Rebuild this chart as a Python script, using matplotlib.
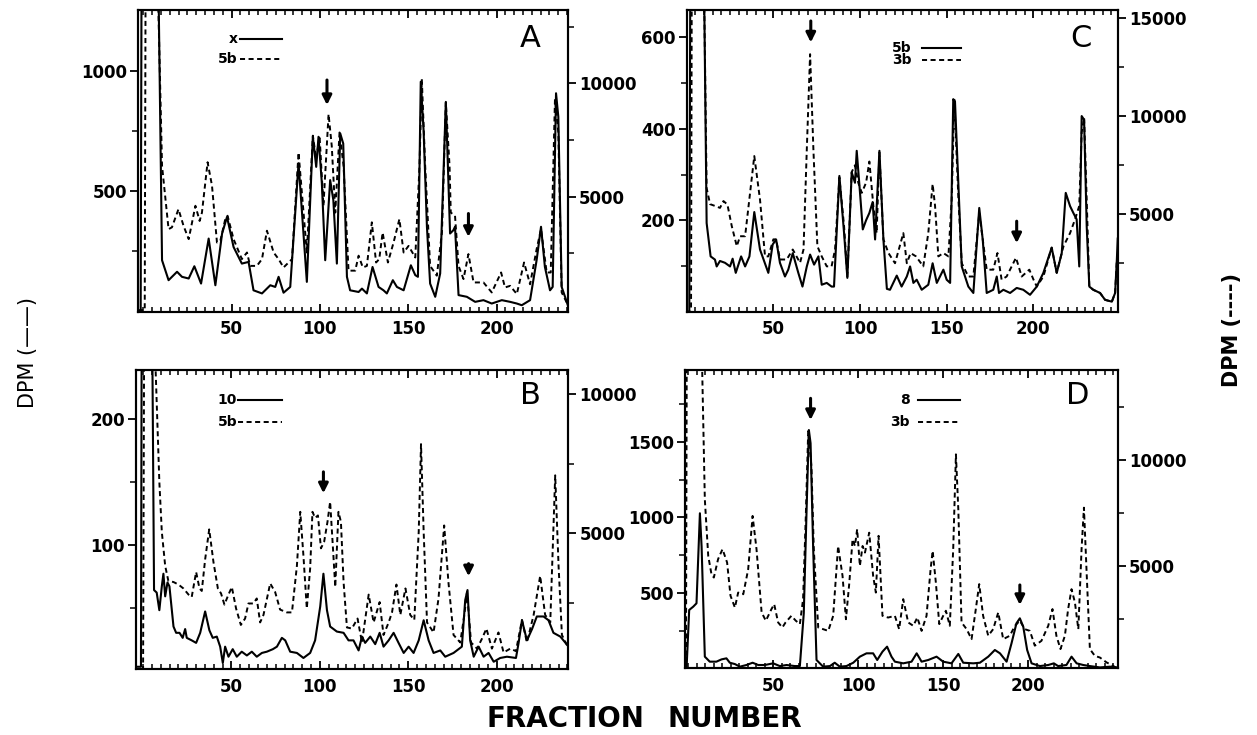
import numpy as np
import matplotlib
matplotlib.use("Agg")
import matplotlib.pyplot as plt
from matplotlib.ticker import MultipleLocator

plt.rcParams.update({"font.family": "DejaVu Sans", "font.weight": "bold"})

# ---- values: (fraction number, DPM)
# solid traces use the left axis, dashed traces the right axis
a_solid = [(-3, 0), (-1.5, 0), (-1, 1400), (8.5, 1400), (10.6, 212), (14.3, 129), (19.1, 164), (21.9, 143),
           (25.7, 136), (28.9, 187), (32.7, 115), (37, 302), (40.8, 108), (44.6, 323), (47.4, 392), (51.1, 267),
           (55.8, 198), (59.6, 205), (62.4, 87), (67.2, 74), (71.9, 108), (74.7, 101), (76.6, 143), (79.4, 77),
           (83.2, 101), (87.9, 615), (92.6, 122), (96, 725), (97.9, 600), (99.2, 725), (101.1, 531), (103, 212),
           (105.8, 545), (107.6, 462), (109.6, 198), (111.5, 739), (113.2, 697), (115.3, 143), (117.1, 87),
           (121.9, 80), (123.8, 94), (126.6, 74), (129.8, 184), (133.2, 101), (136, 87), (137.9, 74), (141.3, 129),
           (143.6, 101), (147.4, 87), (151.5, 191), (154, 150), (155.5, 143), (157.1, 954), (158.7, 752),
           (160.6, 351), (162.4, 115), (165.3, 60), (168.1, 157), (171.3, 870), (173.7, 323), (175.6, 337),
           (176.5, 351), (178.5, 67), (183.2, 60), (187.9, 39), (192.6, 46), (197.3, 32), (203, 46), (207.7, 39),
           (211.5, 32), (214.3, 25), (219, 46), (222.7, 212), (225.2, 351), (227.4, 184), (230.3, 87), (231.8, 101),
           (233.7, 906), (235, 808), (236.9, 101), (238.8, 60), (240.7, 18)]
a_dash = [(-3, 0), (0.8, 0), (1.3, 15000), (8, 15000), (10.6, 6360), (14.3, 3570), (16.2, 3650), (19.9, 4450),
          (22.8, 3710), (25.7, 3130), (29.5, 4600), (31.9, 3930), (33.2, 4300), (36.4, 6520), (38.9, 5480),
          (41.7, 2980), (43.6, 3050), (46.4, 4010), (47.7, 4160), (51.1, 3130), (55.8, 2250), (58.7, 2540),
          (60.5, 1950), (64.3, 1950), (67.2, 2250), (70, 3500), (73.8, 2540), (76.6, 2250), (79.4, 1880),
          (84.2, 2250), (87.9, 6950), (92.6, 2540), (96, 7690), (97.9, 6660), (99.8, 7690), (102, 4600),
          (104.9, 8640), (106.7, 7240), (108.7, 4300), (111.1, 7830), (113.4, 6360), (116.2, 1740), (120, 1740),
          (121.9, 2400), (124.3, 1880), (126.6, 1950), (129.4, 3870), (131.8, 2100), (133.6, 2250), (135.5, 3420),
          (138.5, 2100), (141.7, 2980), (145, 4010), (147.4, 2540), (150.2, 2830), (154, 2320), (156.4, 6360),
          (157.7, 10190), (159.6, 6360), (162.4, 1950), (166.2, 1520), (169.1, 3420), (171.3, 9150), (173.4, 6360),
          (174.1, 4300), (176.5, 4160), (178.5, 1950), (181.3, 1370), (184.1, 2470), (187, 1220), (192.6, 1220),
          (197.3, 780), (202.6, 1660), (204.8, 1000), (207.7, 1070), (211.5, 710), (215.6, 2100), (219, 1140),
          (222.7, 2680), (225.2, 3570), (228.4, 1660), (230.7, 1660), (233.1, 9310), (235, 7830), (236.9, 780),
          (240.7, 190)]

b_solid = [(-4, 3), (-1.2, 3), (-0.6, 400), (4.5, 400), (6.2, 64), (7.7, 62), (9.2, 48), (10.6, 67), (11.5, 77),
           (12.5, 59), (13.8, 70), (14.9, 67), (17.2, 35), (18.7, 30), (20.6, 30), (22.4, 26), (23.8, 33),
           (24.7, 26), (27.5, 24), (30, 22), (32.3, 30), (35.1, 47), (37.5, 32), (39.4, 26), (41.7, 27), (43.6, 19),
           (45.1, 6), (46.4, 19), (48.3, 11), (50.7, 17), (53, 11), (55.8, 15), (58.7, 12), (61.5, 15), (64.3, 11),
           (67.2, 14), (70, 15), (73.4, 17), (75.7, 19), (78.5, 26), (80.4, 24), (83.2, 15), (87, 14), (90.7, 10),
           (94.5, 14), (97.3, 24), (100.2, 51), (102, 77), (104, 48), (105.8, 35), (109.6, 31), (113.4, 30),
           (116.2, 24), (119, 24), (121.9, 16), (123.8, 27), (125.6, 22), (128.5, 27), (131.3, 21), (133.8, 30),
           (136, 19), (138.9, 24), (141.7, 30), (144.5, 22), (147.4, 14), (150.2, 19), (153, 14), (155.9, 24),
           (158.7, 40), (161.5, 24), (164.3, 14), (168.1, 16), (170.9, 11), (175.6, 14), (180.3, 19), (182.2, 56),
           (183.5, 64), (185, 24), (187, 11), (189.8, 19), (192.6, 11), (195.4, 14), (198.3, 7), (202, 10),
           (205.8, 11), (210.9, 10), (212.4, 22), (214.3, 40), (217.1, 24), (220, 33), (222.7, 43), (226.5, 43),
           (229.3, 40), (232.1, 30), (236, 27), (240.7, 19)]
b_dash = [(-4, 0), (0, 0), (0.6, 12000), (6.5, 12000), (9.2, 6840), (10.6, 5050), (12.5, 3830), (14.3, 3290),
          (17.2, 3250), (20, 3160), (22.8, 3020), (25.7, 2800), (27.5, 2710), (30, 3610), (31.9, 3020), (33.2, 2930),
          (35.1, 4060), (37.4, 5140), (39.8, 3970), (42.3, 3020), (44.1, 2840), (46, 2440), (48.3, 2800),
          (50.2, 3070), (52.6, 2300), (55.3, 1710), (57.7, 1940), (59.6, 2480), (62.4, 2480), (64.3, 2660),
          (66.2, 1800), (68.1, 2070), (71.9, 3200), (74.7, 2890), (77.5, 2260), (81.3, 2160), (84.2, 2160),
          (87, 3830), (88.9, 5770), (90.7, 4190), (92.6, 2300), (94.5, 3740), (95.8, 5770), (97.3, 5550),
          (98.9, 5640), (100.6, 4460), (102.4, 4690), (104.3, 5410), (105.8, 6130), (107.4, 4460), (108.7, 3070),
          (110.5, 5770), (111.9, 5410), (113.4, 3250), (115.3, 1620), (118.1, 1580), (121.3, 1940), (123.8, 1080),
          (127.6, 2800), (130.4, 1800), (133.8, 2530), (136, 1350), (138.9, 1800), (140.8, 2160), (143.3, 3160),
          (145.5, 2070), (148.4, 3020), (151.1, 2070), (153.4, 1890), (155.9, 5050), (157.2, 8200), (158.7, 5050),
          (160.6, 1800), (164.3, 1440), (167.1, 2660), (170.3, 5280), (172.7, 3250), (175.6, 1350), (179.4, 1080),
          (181.7, 2070), (183.2, 2890), (185.5, 1080), (188.9, 860), (191.7, 1220), (194.2, 1580), (197.3, 860),
          (201, 1440), (203.9, 720), (207.7, 860), (210.9, 770), (214.3, 1890), (217.1, 1080), (220.9, 2070),
          (224.6, 3470), (227.4, 2070), (230.3, 1800), (233.1, 7080), (235, 3830), (236.9, 1350), (240.7, 860)]

c_solid = [(0, 0), (1.5, 0), (2.2, 900), (9.5, 900), (11.5, 194), (13.8, 121), (16.3, 114), (17.3, 99),
           (19.2, 111), (22.1, 107), (25, 99), (26.5, 116), (28.3, 85), (31.4, 121), (33.7, 99), (36.2, 121),
           (39, 218), (42.3, 136), (47.1, 85), (49.6, 147), (51.6, 158), (53.8, 107), (56.7, 77), (58.6, 92),
           (61.2, 128), (64.4, 85), (66.8, 55), (69.3, 99), (71.2, 125), (73.5, 103), (76, 121), (77.9, 59),
           (80.8, 63), (83.6, 55), (85, 55), (88.1, 297), (90.8, 172), (92.7, 74), (95.2, 305), (97.1, 282),
           (98.1, 352), (100, 260), (101.6, 180), (103.5, 200), (105.4, 216), (107.3, 240), (108.7, 158),
           (111.2, 352), (113.5, 158), (115.5, 50), (117.3, 48), (121.2, 79), (124, 55), (127, 77), (128.9, 99),
           (130.8, 63), (132.7, 70), (135.6, 48), (139.4, 59), (141.9, 106), (144.3, 63), (148.1, 92), (150, 70),
           (152, 63), (153.8, 465), (154.8, 460), (156.8, 275), (158.7, 99), (162.5, 55), (165.4, 41), (168.8, 227),
           (170.8, 158), (173.1, 41), (176.9, 48), (178.9, 77), (180.2, 41), (182.7, 48), (186.6, 41), (190.4, 52),
           (194.2, 48), (198.1, 37), (202, 55), (205.8, 85), (210.6, 140), (213.5, 85), (216.4, 128), (218.7, 260),
           (221.2, 231), (223.1, 216), (225, 202), (226.5, 99), (227.9, 428), (229.3, 420), (230.8, 187),
           (232.3, 55), (234.6, 48), (238.5, 41), (241.4, 26), (245.3, 22), (247.2, 41), (248.2, 114), (248.7, 160)]
c_dash = [(0, 0), (2.5, 0), (3, 20000), (9.5, 20000), (11.5, 6320), (13.5, 5500), (16.3, 5410), (19.2, 5310),
          (21.2, 5660), (23.5, 5480), (26, 4380), (28.9, 3350), (30.8, 3860), (33.7, 3860), (39, 7960), (42.3, 5730),
          (45.2, 2830), (47.1, 2830), (50, 3700), (51.6, 3700), (53.8, 2670), (57.7, 2670), (61.2, 3180),
          (65.4, 2500), (67.4, 3180), (69.3, 8310), (71.2, 13170), (73.1, 8310), (75.4, 3350), (77.9, 2830),
          (80.8, 2320), (83.6, 2320), (85.6, 3180), (88.1, 6860), (90.8, 4380), (92.7, 1800), (95.2, 7140),
          (97.1, 7490), (99, 6600), (101, 6080), (103.5, 6600), (105.4, 7680), (107.7, 5410), (109.6, 4020),
          (111.2, 8140), (113.5, 3700), (116.4, 3000), (120.2, 2480), (125, 4020), (127, 2480), (129.2, 3000),
          (132.3, 2830), (136.5, 2320), (139.4, 4020), (141.9, 6530), (143.3, 5410), (145.2, 2830), (148.1, 3000),
          (151, 2830), (152.9, 5730), (154.4, 10880), (156.8, 5730), (158.7, 2480), (162.5, 1800), (165.4, 1800),
          (168.8, 5050), (171.1, 3510), (173.1, 2150), (176.9, 2150), (179.3, 3000), (181.7, 1640), (184.6, 1800),
          (190, 2760), (193.3, 1800), (197.7, 2150), (200.1, 1640), (202, 1290), (205.8, 1800), (210.6, 3280),
          (213.5, 1990), (217.4, 3350), (221.2, 4020), (224.1, 4730), (226.5, 5410), (227.9, 9170), (229.3, 9920),
          (230.8, 5730), (232.3, 1290), (234.6, 1120), (238.5, 960), (241.4, 610), (245.3, 510), (247.2, 960),
          (248.2, 2670)]

d_solid = [(-2, 0), (-0.9, 16), (0.6, 390), (3, 412), (4.9, 434), (6.9, 1028), (7.9, 808), (9.8, 82), (12.7, 49),
           (16.6, 49), (19.6, 64), (22.5, 71), (24.5, 42), (27.5, 33), (30.4, 16), (34.3, 27), (37.9, 42),
           (41.2, 27), (45.1, 27), (50, 38), (53.9, 20), (57.9, 27), (62.7, 20), (65.7, 20), (68, 368), (69.6, 1028),
           (71, 1577), (72, 1490), (73.5, 808), (75.5, 60), (79.4, 16), (83.4, 20), (86.2, 42), (89.2, 16),
           (93.1, 20), (97.1, 42), (101, 82), (104.9, 104), (108.8, 104), (111.2, 60), (114.3, 115), (117, 148),
           (119.6, 82), (121.6, 49), (126.5, 38), (131.4, 49), (134.4, 104), (137.3, 49), (141.2, 60), (146.1, 82),
           (150, 49), (154.9, 38), (158.9, 100), (161.8, 42), (167.7, 38), (171.6, 42), (176.5, 82), (180.4, 126),
           (183.4, 104), (187.3, 49), (190.2, 170), (193.1, 302), (195.1, 335), (197.1, 280), (199.4, 126),
           (202, 38), (206.9, 20), (211.8, 27), (215.1, 38), (217.6, 20), (222.5, 27), (225.5, 82), (228.5, 38),
           (232.4, 27), (236.3, 20), (242.2, 11), (248.1, 16), (252.6, 11)]
d_dash = [(-2, 0), (-1.3, 0), (-0.8, 16000), (7.8, 16000), (9.8, 8130), (11.8, 5460), (13.7, 4600), (15.1, 4440),
          (17.6, 5310), (20.2, 5780), (22.9, 5150), (24.9, 3580), (27.5, 3020), (29.4, 3730), (32.4, 3650),
          (35.3, 4830), (37.9, 7350), (40.2, 5780), (43.2, 2790), (45.7, 2400), (49, 2950), (50.6, 3180),
          (52.9, 2320), (55.4, 2080), (57.3, 2320), (60.7, 2630), (63.3, 2400), (65.7, 2240), (67.6, 3420),
          (69.2, 7350), (70.6, 11350), (72.5, 9700), (73.9, 5780), (76.5, 2080), (79.4, 2000), (82.4, 1920),
          (85.3, 2630), (88.2, 5930), (90.8, 4520), (92.8, 2470), (94.8, 4200), (96.7, 6250), (98.1, 5930),
          (99.4, 6720), (101, 4990), (102.6, 5930), (104, 5620), (106.5, 6560), (108.8, 4520), (110.4, 3730),
          (112, 6410), (114.3, 2630), (117.6, 2550), (121.6, 2630), (124.1, 2000), (126.5, 3420), (129.4, 2320),
          (132.4, 2160), (134.8, 2550), (137.3, 1920), (140.2, 2630), (142.6, 4830), (143.8, 5700), (145.7, 4200),
          (147.7, 2240), (150, 2630), (151.6, 2870), (153.9, 2160), (155.9, 5780), (157.5, 10260), (158.9, 7660),
          (160.8, 2320), (163.8, 2000), (166.7, 1530), (169.2, 2950), (171.2, 4130), (173.5, 2630), (176.5, 1690),
          (179.4, 2000), (182.4, 2790), (185.3, 1530), (189.2, 1690), (192.2, 2160), (195.1, 2400), (198, 2000),
          (201, 1920), (203.9, 1220), (207.8, 1450), (211.8, 2160), (214.3, 2950), (216.6, 1690), (219, 1060),
          (221.6, 1690), (223.5, 2950), (225.5, 3890), (227.5, 3260), (229.5, 2000), (231.4, 5780), (232.8, 7740),
          (234.3, 4830), (236.3, 1060), (239.2, 740), (242.2, 660), (246.1, 430), (250, 270), (252.6, 110)]

# arrows: (fraction, tail, tip) in left-axis DPM
a_arrows = [(104, 961, 857), (184.1, 406, 309)]
b_arrows = [(102, 158, 141), (184.1, 85, 75)]
c_arrows = [(71.6, 636, 589), (190.4, 198, 150)]
d_arrows = [(72, 1786, 1643), (195.1, 555, 423)]

x_ticks = [50, 100, 150, 200]

PANELS = [
    # letter, solid, dashed, arrows, legend names, rect, xlim, left ylim, right ylim,
    # left ticks, left minor, right ticks, right minor, legend x (text, line0, line1), legend y
    ("A", a_solid, a_dash, a_arrows, ("x", "5b"), [0.1098, 0.5759, 0.3421, 0.4105], (-3, 240.5),
     (-2, 1252), (-70, 13230), [500, 1000], [250, 750], [5000, 10000], [2500, 7500, 12500],
     (0.232, 0.237, 0.335), (0.904, 0.838), (0.888, 0.905)),
    ("B", b_solid, b_dash, b_arrows, ("10", "5b"), [0.1082, 0.0894, 0.3439, 0.4072], (-4, 240.5),
     (1, 239), (118, 10860), [100, 200], [50, 150], [5000, 10000], [2500, 7500],
     (0.234, 0.236, 0.338), (0.900, 0.827), (0.889, 0.915)),
    ("C", c_solid, c_dash, c_arrows, ("5b", "3b"), [0.5463, 0.5759, 0.3429, 0.4105], (0, 248.7),
     (0, 660), (0, 15430), [200, 400, 600], [100, 300, 500], [5000, 10000, 15000], [2500, 7500, 12500],
     (0.522, 0.545, 0.637), (0.873, 0.834), (0.889, 0.905)),
    ("D", d_solid, d_dash, d_arrows, ("8", "3b"), [0.5449, 0.0907, 0.3442, 0.4059], (-1.9, 252.6),
     (5, 1973), (150, 14245), [500, 1000, 1500], [250, 750, 1250, 1750], [5000, 10000], [2500, 7500, 12500],
     (0.520, 0.538, 0.635), (0.900, 0.827), (0.881, 0.915)),
]

DASH = (0, (2.6, 1.8))
fig = plt.figure(figsize=(12.57, 7.35), dpi=100)

for (letter, solid, dash, arrows, names, rect, xlim, yl, yr, lt, lm, rt, rm,
     legx, legy, letpos) in PANELS:
    ax = fig.add_axes(rect)
    ax2 = ax.twinx()
    sx, sy = np.array(solid, dtype=float).T
    dx, dy = np.array(dash, dtype=float).T
    ax.plot(sx, sy, color="black", lw=1.5, solid_joinstyle="round")
    ax2.plot(dx, dy, color="black", lw=1.4, linestyle=DASH)
    ax.set_xlim(*xlim)
    ax.set_ylim(*yl)
    ax2.set_ylim(*yr)

    ax.set_xticks(x_ticks)
    ax.xaxis.set_minor_locator(MultipleLocator(5))
    ax.tick_params(axis="x", which="both", direction="in", top=True, bottom=True, labelsize=12)
    ax.tick_params(axis="x", which="major", length=6, width=1.3, pad=6)
    ax.tick_params(axis="x", which="minor", length=3.5, width=1.1)

    ax.set_yticks(lt)
    ax.set_yticks(lm, minor=True)
    ax.tick_params(axis="y", which="major", direction="out", length=6, width=1.3, pad=2, labelsize=12)
    ax.tick_params(axis="y", which="minor", direction="out", length=4, width=1.1)
    ax2.set_yticks(rt)
    ax2.set_yticks(rm, minor=True)
    ax2.tick_params(axis="y", which="major", direction="out", length=6, width=1.3, pad=2, labelsize=12)
    ax2.tick_params(axis="y", which="minor", direction="out", length=4, width=1.1)

    for a in (ax, ax2):
        for s in a.spines.values():
            s.set_linewidth(1.5)

    for f, tail, tip in arrows:
        ax.annotate("", xy=(f, tip), xytext=(f, tail),
                    arrowprops=dict(arrowstyle="-|>", color="black", lw=2.2,
                                    mutation_scale=14, shrinkA=0, shrinkB=0))

    # hand-drawn style key
    tx, l0, l1 = legx
    ax.text(tx, legy[0], names[0], transform=ax.transAxes, ha="right", va="center",
            fontsize=10, fontweight="bold")
    ax.text(tx, legy[1], names[1], transform=ax.transAxes, ha="right", va="center",
            fontsize=10, fontweight="bold")
    ax.plot([l0, l1], [legy[0], legy[0]], transform=ax.transAxes, color="black", lw=1.5)
    ax.plot([l0, l1], [legy[1], legy[1]], transform=ax.transAxes, color="black", lw=1.4,
            linestyle=DASH)
    ax.text(letpos[0], letpos[1], letter, transform=ax.transAxes, ha="left", va="center",
            fontsize=22, fontweight="normal")

fig.text(0.0223, 0.521, "DPM (——)", rotation=90, ha="center", va="center",
         fontsize=15, fontweight="normal")
fig.text(0.980, 0.551, "DPM (----)", rotation=90, ha="center", va="center",
         fontsize=15, fontweight="bold")
fig.text(0.450, 0.022, "FRACTION", ha="center", va="center", fontsize=20, fontweight="heavy")
fig.text(0.5847, 0.022, "NUMBER", ha="center", va="center", fontsize=20, fontweight="heavy")

fig.savefig("out.png", dpi=100)
